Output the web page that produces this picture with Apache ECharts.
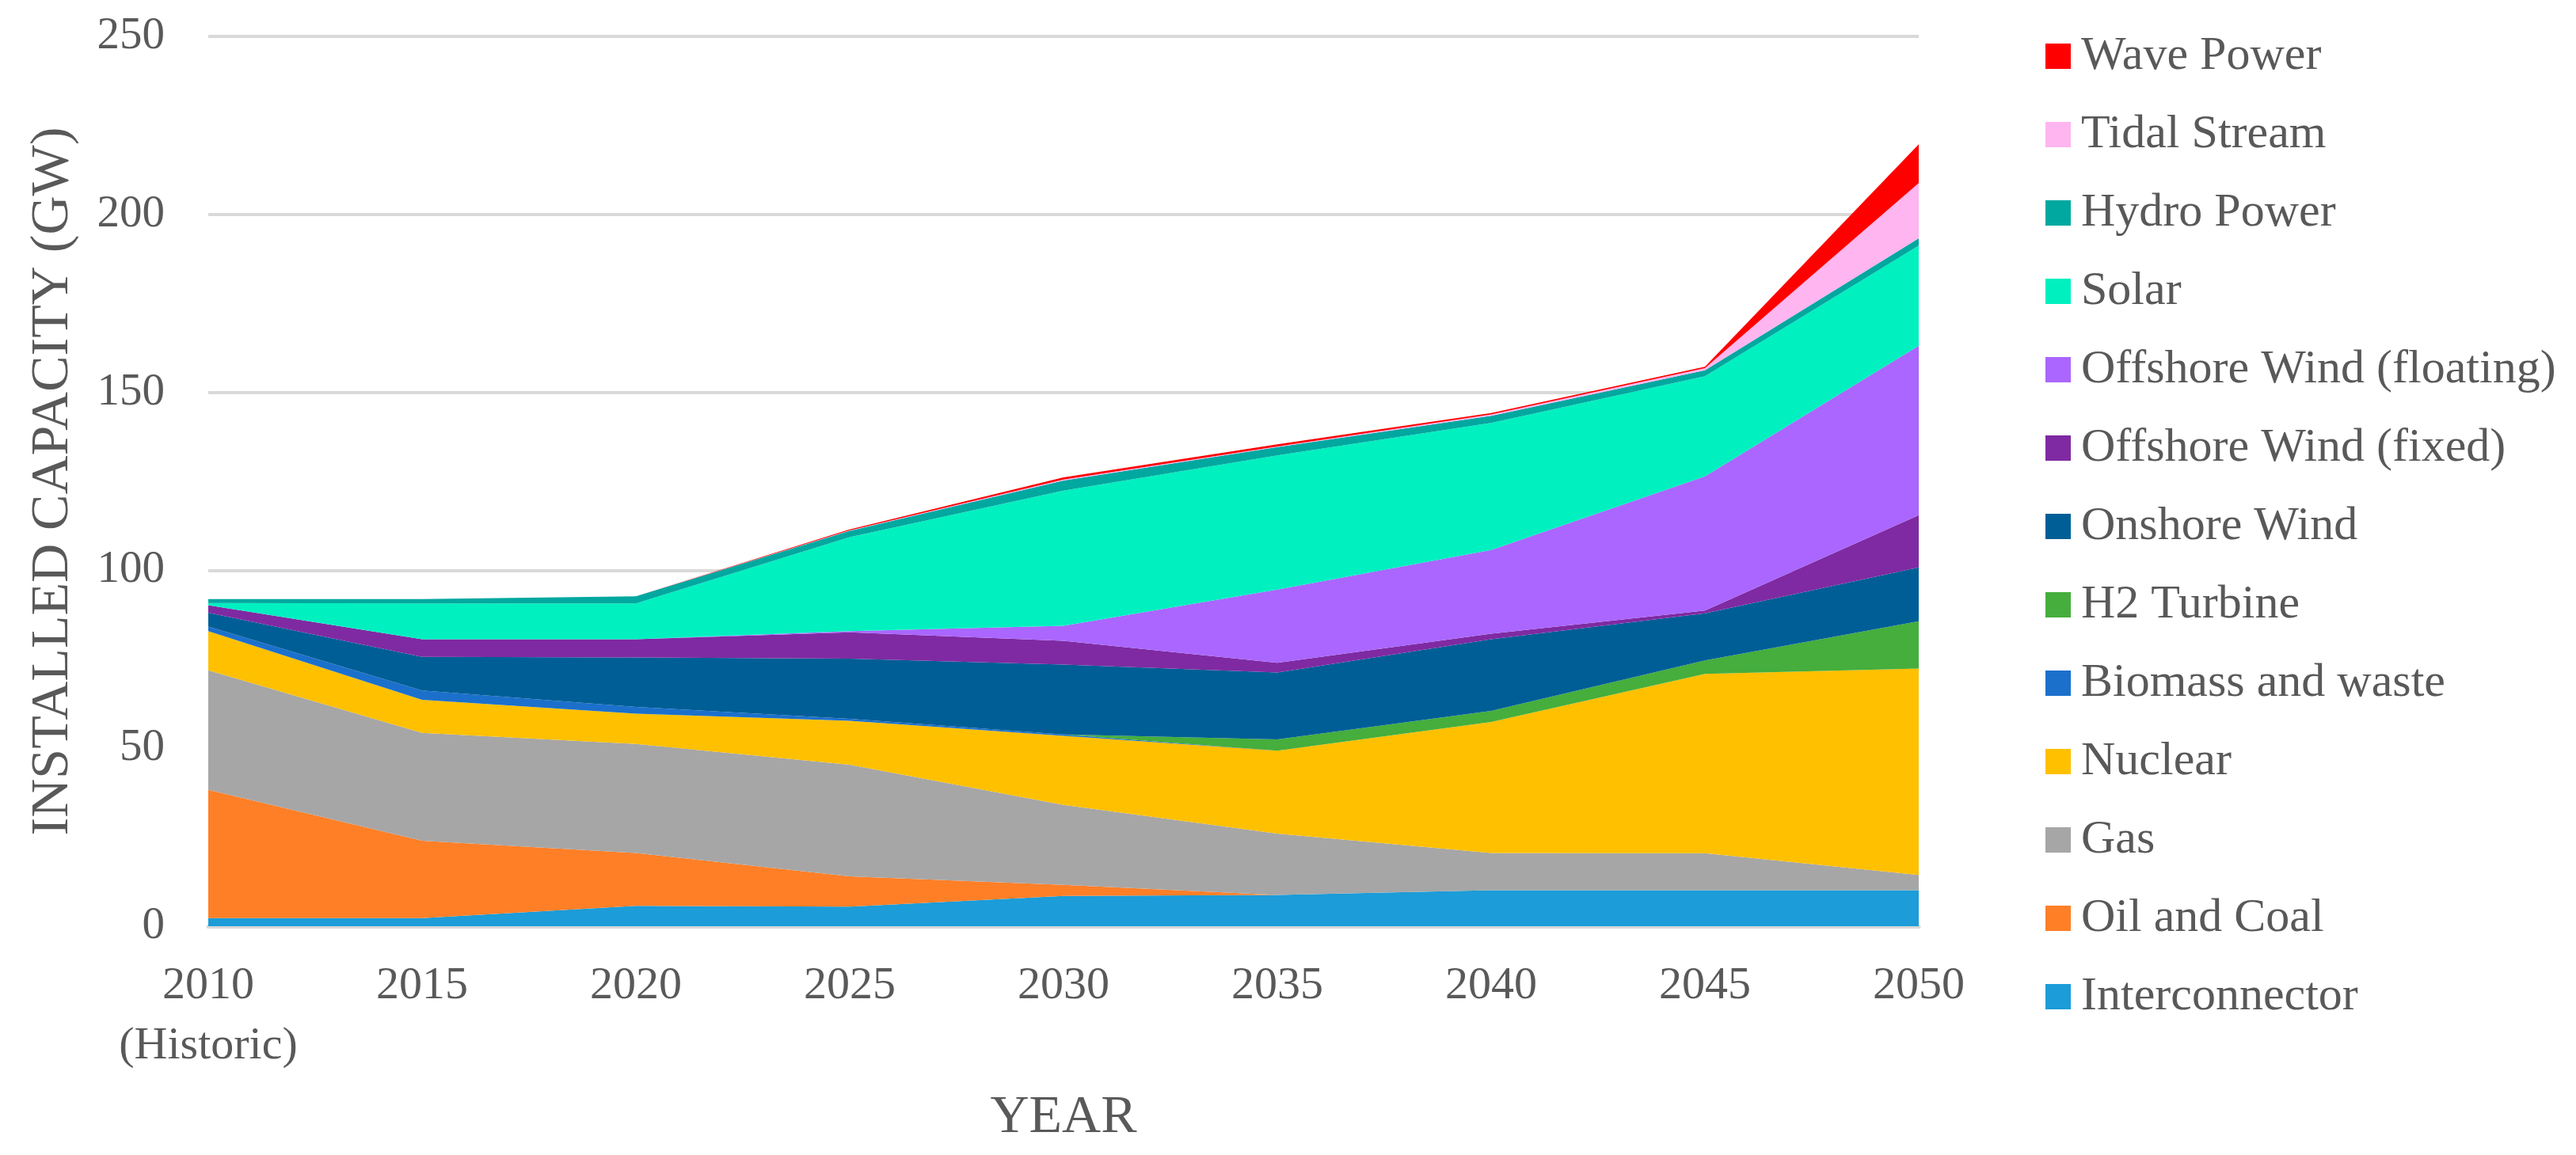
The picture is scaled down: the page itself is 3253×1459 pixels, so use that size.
<!DOCTYPE html>
<html>
<head>
<meta charset="utf-8">
<script src="https://cdn.jsdelivr.net/npm/echarts@6/dist/echarts.min.js"></script>
<style>
html,body{margin:0;padding:0;background:#fff;}
#chart{width:3253px;height:1459px;}
</style>
</head>
<body>
<div id="chart"></div>
<script>
// Categories (x axis)
var years = ['2010\n(Historic)', '2015', '2020', '2025', '2030', '2035', '2040', '2045', '2050'];
// Y axis ticks
var yTicks = [0, 50, 100, 150, 200, 250];

// Series values (GW), stacked bottom -> top
var interconnector = [2.3, 2.3, 5.7, 5.5, 8.5, 8.8, 10.1, 10.1, 10.1];
var oilCoal        = [36.0, 21.7, 14.9, 8.5, 3.1, 0, 0, 0, 0];
var gas            = [33.6, 30.3, 30.6, 31.4, 22.5, 17.2, 10.5, 10.4, 4.3];
var nuclear        = [11.0, 9.3, 8.5, 12.3, 19.4, 23.3, 36.8, 50.4, 58.0];
var biomass        = [1.3, 2.6, 1.9, 0.6, 0.4, 0, 0, 0, 0];
var h2Turbine      = [0, 0, 0, 0, 0, 3.2, 3.1, 3.8, 13.3];
var onshoreWind    = [3.9, 9.5, 13.9, 16.9, 19.6, 18.8, 20.1, 13.2, 15.1];
var offshoreFixed  = [2.1, 4.9, 5.1, 7.4, 6.7, 2.7, 1.6, 0.8, 14.7];
var offshoreFloat  = [0, 0, 0, 0.3, 4.2, 20.6, 23.5, 37.7, 47.6];
var solar          = [0.6, 10.1, 10.1, 26.4, 38.0, 37.7, 35.7, 28.1, 28.1];
var hydro          = [1.1, 1.2, 2.0, 1.8, 2.8, 2.3, 2.0, 1.7, 2.1];
var tidal          = [0, 0, 0, 0.1, 0.3, 0.2, 0.4, 0.6, 15.5];
var wave           = [0, 0, 0, 0.3, 0.6, 0.6, 0.4, 0.4, 10.9];

var seriesNames = ['Interconnector', 'Oil and Coal', 'Gas', 'Nuclear', 'Biomass and waste', 'H2 Turbine',
  'Onshore Wind', 'Offshore Wind (fixed)', 'Offshore Wind (floating)', 'Solar', 'Hydro Power', 'Tidal Stream', 'Wave Power'];
var seriesData = [interconnector, oilCoal, gas, nuclear, biomass, h2Turbine, onshoreWind,
  offshoreFixed, offshoreFloat, solar, hydro, tidal, wave];
var seriesColors = ['#1C9CD8', '#FF7F27', '#A6A6A6', '#FFC000', '#1B70CC', '#45AE3C', '#005E96',
  '#7F2AA2', '#AA66FF', '#00F0C0', '#00A8A0', '#FFB5EF', '#FF0000'];

var FONT = '"Liberation Serif", "Times New Roman", serif';
var TXT = '#595959';

var series = seriesNames.map(function (name, i) {
  return {
    name: name,
    type: 'line',
    stack: 'total',
    data: seriesData[i],
    symbol: 'none',
    smooth: false,
    lineStyle: { width: 0 },
    areaStyle: { color: seriesColors[i], opacity: 1 },
    itemStyle: { color: seriesColors[i] },
    emphasis: { disabled: true }
  };
});

var chart = echarts.init(document.getElementById('chart'));
chart.setOption({
  backgroundColor: '#ffffff',
  animation: false,
  grid: { left: 263, right: 830, top: 46, bottom: 289 },
  legend: {
    orient: 'vertical',
    left: 2578,
    top: 36,
    icon: 'rect',
    itemWidth: 32,
    itemHeight: 32,
    itemGap: 39,
    data: seriesNames.slice().reverse(),
    textStyle: { fontFamily: FONT, fontSize: 60, color: TXT, lineHeight: 60, padding: [0, 0, 0, 8] }
  },
  xAxis: {
    type: 'category',
    boundaryGap: false,
    data: years,
    name: 'YEAR',
    nameLocation: 'middle',
    nameGap: 208,
    nameTextStyle: { fontFamily: FONT, fontSize: 68, color: TXT },
    axisLine: { show: true, lineStyle: { color: '#D9D9D9', width: 5 } },
    axisTick: { show: false },
    axisLabel: { interval: 0, fontFamily: FONT, fontSize: 58, color: TXT, margin: 38, lineHeight: 76 },
    splitLine: { show: false }
  },
  yAxis: {
    type: 'value',
    min: yTicks[0],
    max: yTicks[yTicks.length - 1],
    interval: 50,
    name: 'INSTALLED CAPACITY (GW)',
    nameLocation: 'middle',
    nameGap: 162,
    nameTextStyle: { fontFamily: FONT, fontSize: 68, color: TXT },
    axisLine: { show: false },
    axisTick: { show: false },
    axisLabel: { fontFamily: FONT, fontSize: 57, color: TXT, margin: 55 },
    splitLine: { show: true, lineStyle: { color: '#D9D9D9', width: 4 } }
  },
  series: series
});
</script>
</body>
</html>
